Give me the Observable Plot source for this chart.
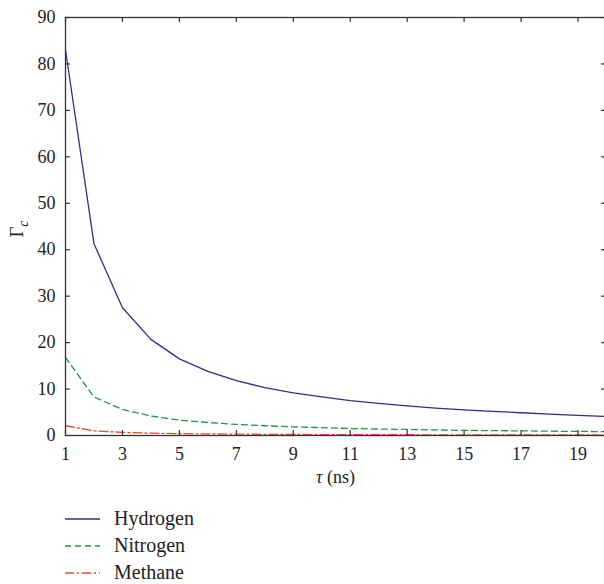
<!DOCTYPE html>
<html><head><meta charset="utf-8">
<script src="https://cdn.jsdelivr.net/npm/d3@7"></script>
<script src="https://cdn.jsdelivr.net/npm/@observablehq/plot@0.6"></script>
<style>
body{margin:0;background:#fff;font-family:"Liberation Serif","Times New Roman","DejaVu Serif",serif;color:#222;}
#legend{margin-left:65px;margin-top:15px;}
.row{display:flex;align-items:center;height:27px;font-size:20px;}
.row svg{margin-right:14px;}
</style></head><body><div id="chart"></div><div id="legend"></div>
<script>
const tau = [1,2,3,4,5,6,7,8,9,10,11,12,13,14,15,16,17,18,19,20];
const hydrogen = [83,41.3,27.5,20.7,16.5,13.8,11.8,10.3,9.2,8.3,7.5,6.9,6.4,5.9,5.5,5.2,4.9,4.6,4.35,4.1];
const nitrogen = [16.8,8.3,5.6,4.2,3.3,2.8,2.4,2.1,1.85,1.7,1.5,1.4,1.3,1.2,1.1,1.05,1.0,0.93,0.88,0.84];
const methane = [2.1,1.0,0.68,0.5,0.4,0.34,0.29,0.25,0.22,0.2,0.18,0.17,0.16,0.15,0.14,0.13,0.12,0.11,0.105,0.1];
const xTicks = [1,3,5,7,9,11,13,15,17,19];
const yTicks = [0,10,20,30,40,50,60,70,80,90];
const seriesNames = ["Hydrogen","Nitrogen","Methane"];
const seriesColors = ["#2f2f92","#159a4a","#ef4a2c"];
const seriesDash = [null,"6,4","9,3,2,3"];
const seriesValues = [hydrogen,nitrogen,methane];

const rows = seriesNames.flatMap((s,k)=>tau.map((t,i)=>({tau:t,v:seriesValues[k][i],s})));

const FONT = '"Liberation Serif","Times New Roman","DejaVu Serif",serif';
const W=604,H=490,mT=17,mB=55,mL=65,mR=-2;
const plot = Plot.plot({
  width:W,height:H,marginTop:mT,marginBottom:mB,marginLeft:mL,marginRight:mR,
  style:{fontFamily:FONT,fontSize:"18px",color:"#222",background:"#fff"},
  x:{domain:[1,20]},
  y:{domain:[0,90]},
  marks:[
    ...seriesNames.map((s,k)=>Plot.line(rows.filter(d=>d.s===s),{x:"tau",y:"v",stroke:seriesColors[k],strokeWidth:1.3,strokeDasharray:seriesDash[k]})),
    Plot.frame({stroke:"#333",strokeWidth:1.3}),
    Plot.tickX(xTicks,{x:d=>d,insetTop:H-mT-mB-5,stroke:"#333",strokeWidth:1.2}),
    Plot.tickX(xTicks,{x:d=>d,insetBottom:H-mT-mB-5,stroke:"#333",strokeWidth:1.2}),
    Plot.tickY(yTicks,{y:d=>d,insetRight:W-mL-mR-5,stroke:"#333",strokeWidth:1.2}),
    Plot.tickY(yTicks,{y:d=>d,insetLeft:W-mL-mR-5,stroke:"#333",strokeWidth:1.2}),
    Plot.axisX(xTicks,{tickSize:0,tickPadding:12,label:null,fontFamily:FONT}),
    Plot.axisY(yTicks,{tickSize:0,tickPadding:10,label:null,fontFamily:FONT})
  ]
});
document.getElementById("chart").appendChild(plot);
const svg = d3.select(plot);
const yl = svg.append("text").attr("transform","translate(23,229) rotate(-90)").attr("text-anchor","middle").attr("font-size",19).attr("fill","#222");
yl.append("tspan").text("Γ");
yl.append("tspan").text("c").attr("font-style","italic").attr("font-size",14).attr("dy",5);
const xl = svg.append("text").attr("x",(mL+W-mR)/2).attr("y",483).attr("text-anchor","middle").attr("font-size",18).attr("fill","#222");
xl.append("tspan").text("τ").attr("font-style","italic");
xl.append("tspan").text(" (ns)");

const leg = d3.select("#legend");
seriesNames.forEach((s,k)=>{
  const r = leg.append("div").attr("class","row");
  const ls = r.append("svg").attr("width",35).attr("height",10);
  ls.append("line").attr("x1",0).attr("x2",35).attr("y1",5).attr("y2",5).attr("stroke",seriesColors[k]).attr("stroke-width",1.3).attr("stroke-dasharray",seriesDash[k]);
  r.append("span").text(s);
});
</script></body></html>
